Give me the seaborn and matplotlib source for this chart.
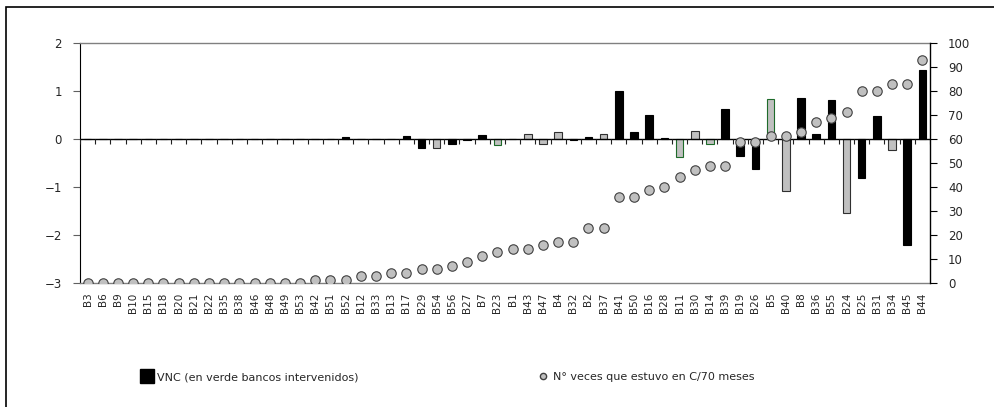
import numpy as np
import pandas as pd
import matplotlib
matplotlib.use("Agg")
import matplotlib.pyplot as plt
import seaborn as sns
from matplotlib.lines import Line2D
from matplotlib.patches import Rectangle
from matplotlib import font_manager

# Datos
bancos = ['B3', 'B6', 'B9', 'B10', 'B15', 'B18', 'B20', 'B21', 'B22', 'B35',
          'B38', 'B46', 'B48', 'B49', 'B53', 'B42', 'B51', 'B52', 'B12', 'B33',
          'B13', 'B17', 'B29', 'B54', 'B56', 'B27', 'B7', 'B23', 'B1', 'B43',
          'B47', 'B4', 'B32', 'B2', 'B37', 'B41', 'B50', 'B16', 'B28', 'B11',
          'B30', 'B14', 'B39', 'B19', 'B26', 'B5', 'B40', 'B8', 'B36', 'B55',
          'B24', 'B25', 'B31', 'B34', 'B45', 'B44']

vnc = [0, 0, 0, 0, 0, 0, 0, 0, 0, 0,
       0, 0, 0, 0, 0, 0, 0, 0.04, 0, 0,
       0.01, 0.07, -0.19, -0.19, -0.10, -0.03, 0.08, -0.13, 0, 0.10,
       -0.11, 0.15, -0.03, 0.04, 0.10, 1.01, 0.15, 0.50, 0.02, -0.38,
       0.16, -0.10, 0.63, -0.35, -0.62, 0.83, -1.08, 0.86, 0.10, 0.81,
       -1.55, -0.81, 0.48, -0.22, -2.21, 1.44]

# negro = VNC, gris = otros, verde = bancos intervenidos
tipo = ['negro'] * 20 + [
    'gris', 'negro', 'negro', 'gris', 'negro', 'negro', 'negro', 'verde', 'negro', 'gris',
    'gris', 'gris', 'negro', 'negro', 'gris', 'negro', 'negro', 'negro', 'negro', 'verde',
    'gris', 'verde', 'negro', 'negro', 'negro', 'verde', 'gris', 'negro', 'negro', 'negro',
    'gris', 'negro', 'negro', 'gris', 'negro', 'negro']

# veces que estuvo en C, sobre 70 meses
veces = [0, 0, 0, 0, 0, 0, 0, 0, 0, 0,
         0, 0, 0, 0, 0, 1, 1, 1, 2, 2,
         3, 3, 4, 4, 5, 6, 8, 9, 10, 10,
         11, 12, 12, 16, 16, 25, 25, 27, 28, 31,
         33, 34, 34, 41, 41, 43, 43, 44, 47, 48,
         50, 56, 56, 58, 58, 65]
meses = 70

df = pd.DataFrame({'banco': bancos, 'vnc': vnc, 'tipo': tipo, 'veces': veces})
df['pct'] = df['veces'] / meses * 100

relleno = {'negro': '#000000', 'gris': '#c0c0c0', 'verde': '#c0c0c0'}
borde = {'negro': '#000000', 'gris': '#303030', 'verde': '#1e6b2a'}

sns.set_style('white')
# fuente estrecha si existe
instaladas = {f.name for f in font_manager.fontManager.ttflist}
estrechas = [n for n in ['Liberation Sans Narrow', 'DejaVu Sans Condensed'] if n in instaladas]
plt.rcParams['font.family'] = estrechas + ['DejaVu Sans']
narrow = len(estrechas) > 0
fs_tick = 9.5 if narrow else 8.5
fs_x = 8.5 if narrow else 7.5
fs_leg = 9.5 if narrow else 8

fig = plt.figure(figsize=(9.95, 4.07), dpi=100)
ax = fig.add_axes([80 / 995, 1 - 283 / 407, 850 / 995, 240 / 407])

paleta = {b: relleno[t] for b, t in zip(bancos, tipo)}
sns.barplot(data=df, x='banco', y='vnc', hue='banco', palette=paleta,
            width=0.5, saturation=1, legend=False, ax=ax)
for cont, t in zip(ax.containers, tipo):
    for bar in cont:
        bar.set_edgecolor(borde[t])
        bar.set_linewidth(0.8)

ax.axhline(0, color='black', lw=1, zorder=3)
ax.vlines(np.arange(len(bancos) + 1) - 0.5, -0.1, 0, color='#202020', lw=0.8, zorder=3)

ax.set_xlim(-0.5, len(bancos) - 0.5)
ax.set_ylim(-3, 2)
ax.set_yticks(range(-3, 3))
ax.set_xlabel('')
ax.set_ylabel('')
ax.tick_params(axis='x', length=0, pad=7, labelsize=fs_x, rotation=90)
ax.tick_params(axis='y', left=True, length=5, width=0.8, color='#606060', labelsize=fs_tick, pad=8)

for s in ['top', 'bottom']:
    ax.spines[s].set_color('#808080')
    ax.spines[s].set_linewidth(1)
ax.spines['left'].set_color('black')
ax.spines['right'].set_visible(False)

ax2 = ax.twinx()
sns.stripplot(data=df, x='banco', y='pct', jitter=False, color='#c0c0c0',
              edgecolor='#404040', linewidth=0.8, size=6.8, ax=ax2, zorder=5)
ax2.set_xlim(-0.5, len(bancos) - 0.5)
ax2.set_ylim(0, 100)
ax2.set_yticks(range(0, 101, 10))
ax2.set_ylabel('')
ax2.tick_params(axis='y', right=True, length=5, width=0.8, color='black', labelsize=fs_tick, pad=8)
for s in ['top', 'bottom', 'left']:
    ax2.spines[s].set_visible(False)
ax2.spines['right'].set_color('black')
ax2.spines['right'].set_linewidth(1)

# leyenda
h1 = Line2D([], [], marker='s', color='black', linestyle='none', markersize=10)
h2 = Line2D([], [], marker='o', markerfacecolor='#c0c0c0', markeredgecolor='#404040',
            linestyle='none', markersize=4.5)
ly = 1 - 377 / 407
fig.legend([h1], ['VNC (en verde bancos intervenidos)'], loc='center left',
           bbox_to_anchor=(136 / 995, ly), frameon=False, borderpad=0,
           handlelength=1, handletextpad=0.4, fontsize=fs_leg)
fig.legend([h2], ['N° veces que estuvo en C/70 meses'], loc='center left',
           bbox_to_anchor=(532 / 995, ly), frameon=False, borderpad=0,
           handlelength=1, handletextpad=0.4, fontsize=fs_leg)

# marco exterior
fig.add_artist(Rectangle((6 / 995, -0.5), 2, 1.5 - 7 / 407, transform=fig.transFigure,
                         fill=False, edgecolor='black', lw=1.2))

fig.savefig('out.png', dpi=100)
